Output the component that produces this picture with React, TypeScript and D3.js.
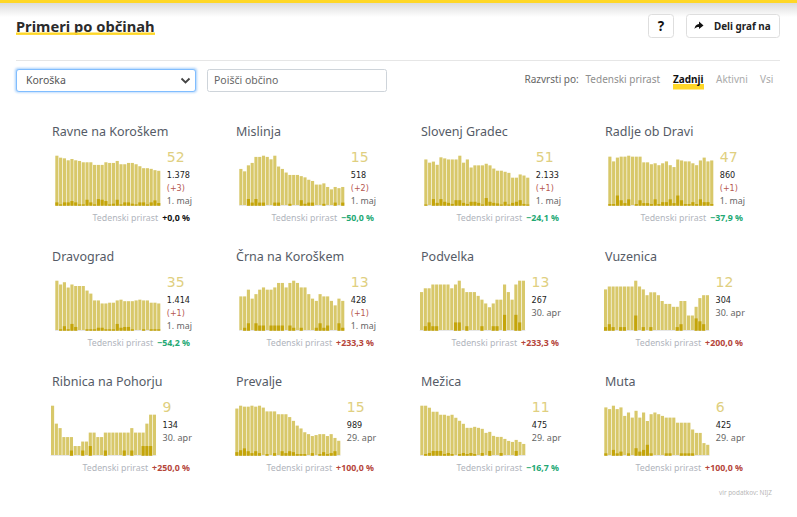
import React from 'react';
import { scaleBand, scaleLinear, max, range } from 'd3';

const names = ['Ravne na Koroškem', 'Mislinja', 'Slovenj Gradec', 'Radlje ob Dravi', 'Dravograd', 'Črna na Koroškem', 'Podvelka', 'Vuzenica', 'Ribnica na Pohorju', 'Prevalje', 'Mežica', 'Muta'];
const latest = [52, 15, 51, 47, 35, 13, 13, 12, 9, 15, 11, 6];
const totals = ['1.378', '518', '2.133', '860', '1.414', '428', '267', '304', '134', '989', '475', '425'];
const deltas = ['(+3)', '(+2)', '(+1)', '(+1)', '(+1)', '(+1)', '', '', '', '', '', ''];
const dates = ['1. maj', '1. maj', '1. maj', '1. maj', '1. maj', '1. maj', '30. apr', '30. apr', '30. apr', '29. apr', '29. apr', '29. apr'];
const growth = ['+0,0 %', '−50,0 %', '−24,1 %', '−37,9 %', '−54,2 %', '+233,3 %', '+233,3 %', '+200,0 %', '+250,0 %', '+100,0 %', '−16,7 %', '+100,0 %'];

const active = [
  [75, 72, 71, 68, 70, 68, 67, 65, 65, 65, 61, 61, 61, 65, 64, 64, 67, 62, 62, 64, 64, 62, 59, 56, 56, 55, 53, 52],
  [30, 28, 33, 35, 40, 40, 41, 40, 38, 41, 32, 30, 27, 25, 25, 25, 24, 23, 21, 20, 17, 17, 18, 15, 13, 15, 14, 15],
  [85, 79, 81, 75, 89, 87, 85, 85, 85, 92, 79, 85, 70, 74, 74, 74, 77, 74, 68, 64, 64, 62, 60, 51, 51, 57, 55, 51],
  [51, 46, 50, 51, 51, 52, 51, 51, 51, 45, 45, 43, 44, 42, 44, 46, 42, 40, 48, 47, 46, 46, 44, 42, 47, 50, 46, 47],
  [65, 60, 63, 56, 60, 58, 58, 58, 52, 48, 39, 39, 35, 35, 36, 36, 39, 40, 38, 38, 38, 39, 40, 39, 39, 36, 36, 35],
  [15, 15, 18, 14, 16, 18, 19, 18, 18, 19, 21, 21, 19, 21, 22, 21, 19, 19, 16, 14, 13, 16, 15, 15, 13, 11, 14, 13],
  [10, 11, 11, 12, 12, 12, 12, 12, 11, 12, 13, 11, 10, 10, 10, 9, 8, 7, 6, 7, 8, 8, 12, 10, 8, 12, 13, 13],
  [14, 15, 15, 15, 15, 15, 15, 15, 17, 15, 14, 12, 13, 13, 12, 10, 9, 9, 8, 8, 10, 10, 5, 5, 8, 11, 12, 12],
  [11, 7, 6, 4, 4, 4, 2, 2, 3, 3, 5, 5, 4, 4, 5, 5, 5, 5, 5, 5, 5, 6, 5, 5, 5, 7, 9, 9],
  [49, 52, 51, 51, 52, 51, 52, 50, 46, 46, 46, 43, 43, 43, 40, 36, 31, 28, 24, 22, 20, 21, 22, 22, 20, 22, 18, 15],
  [49, 49, 47, 43, 43, 40, 40, 39, 40, 37, 34, 31, 27, 27, 28, 27, 26, 22, 23, 19, 18, 18, 16, 14, 13, 15, 13, 11],
  [28, 27, 29, 27, 28, 23, 25, 22, 26, 22, 25, 20, 24, 25, 24, 23, 22, 22, 22, 19, 19, 19, 19, 15, 13, 13, 7, 6],
];

const fresh = [
  [4, 1, 4, 4, 6, 4, 1, 1, 8, 4, 1, 9, 8, 6, 1, 2, 8, 1, 4, 4, 2, 1, 4, 4, 1, 4, 7, 3],
  [0, 0, 5, 2, 5, 2, 2, 0, 0, 2, 2, 0, 0, 1, 0, 0, 4, 1, 2, 2, 0, 0, 1, 0, 0, 2, 0, 2],
  [1, 0, 11, 4, 11, 6, 4, 2, 9, 9, 4, 2, 6, 6, 4, 1, 13, 6, 4, 3, 1, 6, 1, 4, 6, 9, 2, 1],
  [1, 1, 10, 5, 2, 6, 0, 1, 5, 2, 2, 1, 6, 1, 3, 3, 6, 2, 10, 5, 1, 1, 3, 1, 6, 3, 3, 1],
  [0, 1, 5, 1, 8, 4, 0, 0, 1, 1, 1, 3, 3, 1, 1, 1, 8, 3, 4, 4, 1, 0, 0, 1, 0, 1, 1, 1],
  [0, 1, 3, 0, 3, 2, 2, 0, 2, 2, 2, 2, 0, 2, 1, 0, 1, 0, 0, 0, 1, 3, 1, 2, 0, 0, 3, 1],
  [0, 1, 2, 1, 1, 0, 0, 0, 0, 2, 2, 0, 1, 0, 0, 0, 1, 0, 0, 1, 1, 0, 4, 0, 0, 4, 2, 0],
  [1, 2, 1, 0, 1, 1, 0, 0, 5, 0, 1, 0, 1, 0, 0, 0, 0, 0, 0, 1, 2, 0, 0, 0, 4, 3, 2, 0],
  [0, 0, 0, 0, 0, 1, 0, 0, 1, 0, 2, 0, 0, 0, 1, 0, 0, 0, 0, 1, 0, 1, 0, 0, 2, 2, 2, 0],
  [3, 5, 7, 4, 2, 4, 2, 0, 1, 0, 2, 0, 4, 2, 4, 3, 1, 1, 1, 0, 2, 0, 1, 3, 1, 2, 4, 0],
  [0, 1, 2, 4, 4, 4, 1, 2, 1, 0, 1, 2, 1, 2, 1, 0, 2, 0, 4, 0, 0, 2, 0, 0, 0, 4, 0, 0],
  [1, 0, 3, 1, 2, 0, 1, 0, 4, 2, 3, 6, 1, 0, 0, 0, 1, 1, 0, 0, 1, 1, 1, 1, 0, 0, 0, 0],
];

const sortOptions = [
  { label: 'Tedenski prirast', x: 585.5, color: '#8f8f8f' },
  { label: 'Aktivni', x: 716, color: '#aaa' },
  { label: 'Vsi', x: 760, color: '#aaa' },
];

const colX = [52, 236, 421, 605];
const rowBase = [205, 330, 455];
const dateShift: Record<string, number> = { '1. maj': 3.3, '30. apr': -1, '29. apr': -0.7 };
const font = "'Noto Sans', sans-serif";
const numFont = "'DejaVu Sans', sans-serif";

function growthColor(g: string) {
  if (g.startsWith('+0')) return '#111';
  return g.startsWith('+') ? '#b5453a' : '#22a873';
}

const Panel = ({ i }: { i: number }) => {
  const col = colX[i % 4];
  const base = rowBase[Math.floor(i / 4)];
  const left = col + dateShift[dates[i]];
  const x = scaleBand<number>().domain(range(28)).range([left, left + 105]).paddingInner(0.17).paddingOuter(0);
  const y = scaleLinear().domain([0, max(active[i]) as number]).range([base, base - 49.3]);
  const tx = left + 111.5;
  const hasDelta = deltas[i] !== '';
  return (
    <g>
      <text x={col} y={base - 69} fontFamily={font} fontSize={12.5} fill="#555b66">{names[i]}</text>
      <rect x={left - 0.3} y={base} width={105.6} height={0.8} fill="#e2e2e2" />
      {active[i].map((v, k) => (
        <rect key={k} x={x(k)} y={y(v)} width={x.bandwidth()} height={base - y(v)} fill="#d8c86a" />
      ))}
      {fresh[i].map((v, k) => v > 0 && (
        <rect key={k} x={x(k)} y={y(v)} width={x.bandwidth()} height={base - y(v) + 0.8} fill="#c4a50a" />
      ))}
      <text x={tx} y={base - 42.6} fontFamily={numFont} fontSize={14} fill="#e0cf80">{latest[i]}</text>
      <text x={tx} y={base - 27.4} fontFamily={numFont} fontSize={8.1} fill="#222">{totals[i]}</text>
      {hasDelta && <text x={tx} y={base - 14} fontFamily={numFont} fontSize={8} fill="#b5574f">{deltas[i]}</text>}
      <text x={tx} y={hasDelta ? base - 1.5 : base - 14} fontFamily={font} fontSize={hasDelta ? 8.8 : 9} fill="#666">{dates[i]}</text>
      <text x={col + 138} y={base + 15.5} textAnchor="end" fontFamily={font} fontSize={8.8}>
        <tspan fill="#b0b4bc">Tedenski prirast</tspan>
        <tspan dx={4} fontWeight={700} fill={growthColor(growth[i])}>{growth[i]}</tspan>
      </text>
    </g>
  );
};

export default function App() {
  return (
    <svg width={797} height={517} viewBox="0 0 797 517" style={{ position: 'absolute', left: 0, top: 0, background: '#fff' }}>
      <defs>
        <linearGradient id="shade" x1="0" y1="0" x2="0" y2="1">
          <stop offset="0%" stopColor="#dcdcdc" />
          <stop offset="100%" stopColor="#ffffff" />
        </linearGradient>
        <filter id="glow" x="-10%" y="-30%" width="120%" height="160%">
          <feGaussianBlur stdDeviation="1.2" />
        </filter>
      </defs>
      <rect x={0} y={3} width={797} height={14} fill="url(#shade)" />
      <rect x={0} y={0} width={797} height={3} fill="#ffd727" />

      <text x={16} y={32} fontFamily={font} fontSize={14.7} fontWeight={700} fill="#2b2b2b">Primeri po občinah</text>
      <rect x={16} y={32.5} width={139} height={2.4} fill="#ffd727" />

      <rect x={648.5} y={14.5} width={25} height={23} rx={3} fill="#fff" stroke="#dedede" />
      <text x={661} y={31} textAnchor="middle" fontFamily={font} fontSize={13.5} fontWeight={700} fill="#111">?</text>
      <rect x={686.5} y={14.5} width={93} height={23} rx={3} fill="#fff" stroke="#dedede" />
      <path d="M699 24 L699 21.5 L703.5 25.5 L699 29 L699 27 C697 27 695.5 27.6 694.5 29 C694.8 26.3 696.3 24.3 699 24 Z" fill="#111" />
      <text x={714} y={30} fontFamily={font} fontSize={9.9} fontWeight={700} fill="#222">Deli graf na</text>

      <rect x={16} y={60} width={764} height={1} fill="#e6e6e6" />

      <rect x={15} y={68} width={182} height={24.5} rx={3} fill="#a9d0fb" filter="url(#glow)" />
      <rect x={16.5} y={69.5} width={179} height={22} rx={2.5} fill="#fff" stroke="#80bdff" />
      <text x={26} y={84} fontFamily={font} fontSize={10.5} fill="#555">Koroška</text>
      <path d="M181.5 78.5 L185.5 82.5 L189.5 78.5" fill="none" stroke="#444" strokeWidth={1.8} />
      <rect x={207.5} y={69.5} width={179} height={22} rx={2} fill="#fff" stroke="#ced4da" />
      <text x={214} y={84} fontFamily={font} fontSize={10.5} fill="#666">Poišči občino</text>

      <text x={524.5} y={83} fontFamily={font} fontSize={10} fill="#666">Razvrsti po:</text>
      {sortOptions.map(o => (
        <text key={o.label} x={o.x} y={83} fontFamily={font} fontSize={10} fill={o.color}>{o.label}</text>
      ))}
      <rect x={673} y={84} width={31} height={5.5} fill="#ffd727" />
      <text x={673} y={83} fontFamily={font} fontSize={10} fontWeight={700} fill="#111">Zadnji</text>

      {names.map((_, i) => <Panel key={i} i={i} />)}

      <text x={772} y={495} textAnchor="end" fontFamily={font} fontSize={6.4} fill="#b8b8b8">vir podatkov: NIJZ</text>
    </svg>
  );
}
